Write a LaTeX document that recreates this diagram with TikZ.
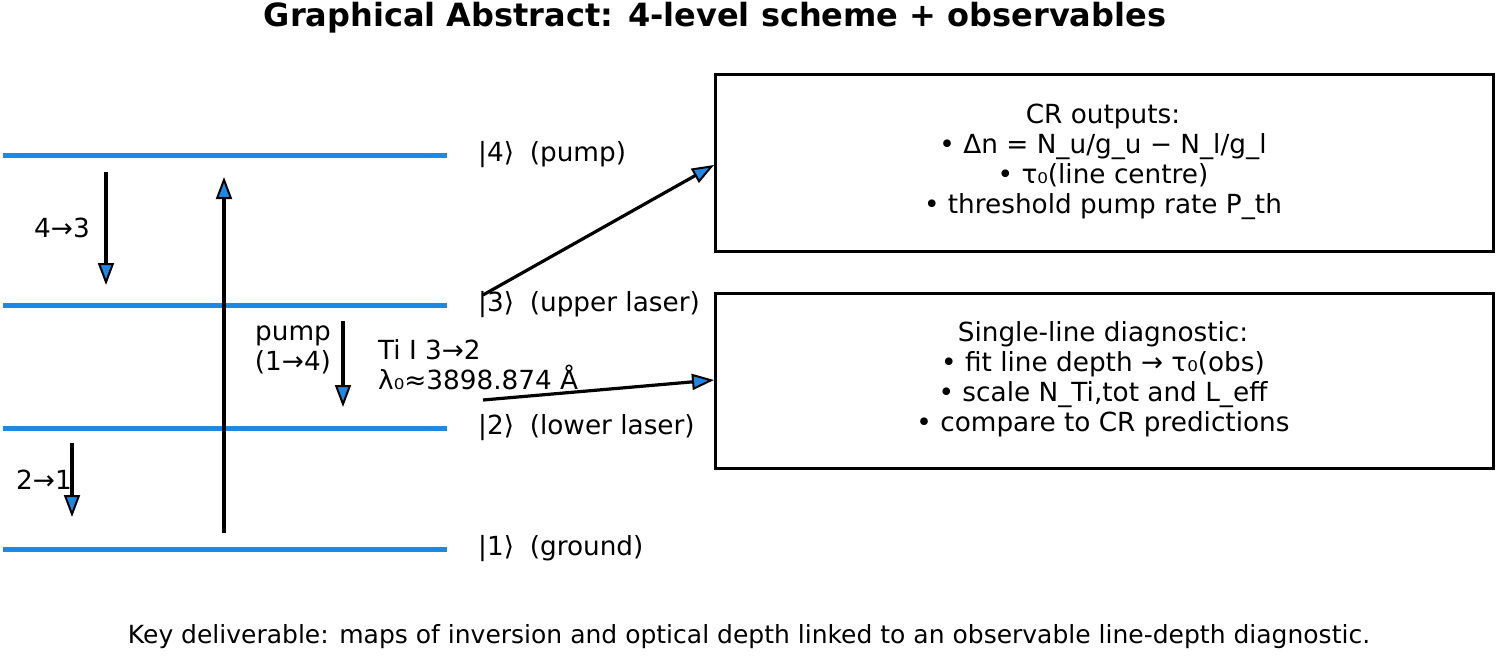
\documentclass[tikz,border=0pt]{standalone}
\usepackage{fontspec}
\setmainfont{DejaVu Sans}
\usetikzlibrary{arrows.meta}
\definecolor{lvl}{RGB}{30,136,229}
\begin{document}
\begin{tikzpicture}[x=1pt,y=-1pt,
  level/.style={draw=lvl,line width=5pt},
  arr/.style={line width=3.2pt,-{Triangle[length=22pt,width=16pt,fill=lvl,line width=2pt]}},
  lab/.style={font=\fontsize{26.3}{30}\selectfont,anchor=west,inner sep=0},
  txt/.style={font=\fontsize{26.3}{30}\selectfont,inner sep=0},
  box/.style={draw,line width=3pt}]
\useasboundingbox (0,0) rectangle (1500,656);
\node[font=\bfseries\fontsize{32}{36}\selectfont] (title) at (715,18) {Graphical Abstract: 4-level scheme + observables};
\foreach \n/\y/\t in {4/155/{|4⟩\hspace{0.6em}(pump)},3/305/{|3⟩\hspace{0.6em}(upper laser)},2/428/{|2⟩\hspace{0.6em}(lower laser)},1/549/{|1⟩\hspace{0.6em}(ground)}}{
  \coordinate (a\n) at (3,\y); \coordinate (b\n) at (447,\y);
  \draw[level] (a\n) -- (b\n);
  \node[lab] (l\n) at (478,\y) {\t};
}
\coordinate (s43) at (106,172); \coordinate (e43) at (106,285);
\draw[arr] (s43) -- (e43);
\node[txt] (t43) at (62,228) {4→3};
\coordinate (sp) at (224,533); \coordinate (ep) at (224,177);
\draw[arr] (sp) -- (ep);
\coordinate (s32) at (343,321); \coordinate (e32) at (343,407);
\draw[arr] (s32) -- (e32);
\node[txt,align=center] (tp) at (293,350) {pump\\(1→4)};
\coordinate (s21) at (72,443); \coordinate (e21) at (72,517);
\draw[arr] (s21) -- (e21);
\node[txt] (t21) at (44,480) {2→1};
\node[lab,align=left] (ti) at (378,365) {Ti I 3→2\\λ₀≈3898.874 Å};
\node[box,minimum width=778pt,minimum height=177pt,anchor=north west] (cr) at (714,73) {};
\node[txt,align=center] (crt) at (1103,162) {CR outputs:\\• Δn = N\_u/g\_u − N\_l/g\_l\\• τ₀(line centre)\\• threshold pump rate P\_th};
\node[box,minimum width=778pt,minimum height=175pt,anchor=north west] (sl) at (714,292) {};
\node[txt,align=center] (slt) at (1103,379) {Single-line diagnostic:\\• fit line depth → τ₀(obs)\\• scale N\_Ti,tot and L\_eff\\• compare to CR predictions};
\coordinate (d1) at (483,295); \coordinate (d2) at (483,400);
\draw[arr] (d1) -- (cr.west|-0,165);
\draw[arr] (d2) -- (sl.west|-0,380);
\node[font=\fontsize{25}{30}\selectfont] (key) at (749,637) {Key deliverable: maps of inversion and optical depth linked to an observable line-depth diagnostic.};
\end{tikzpicture}
\end{document}
